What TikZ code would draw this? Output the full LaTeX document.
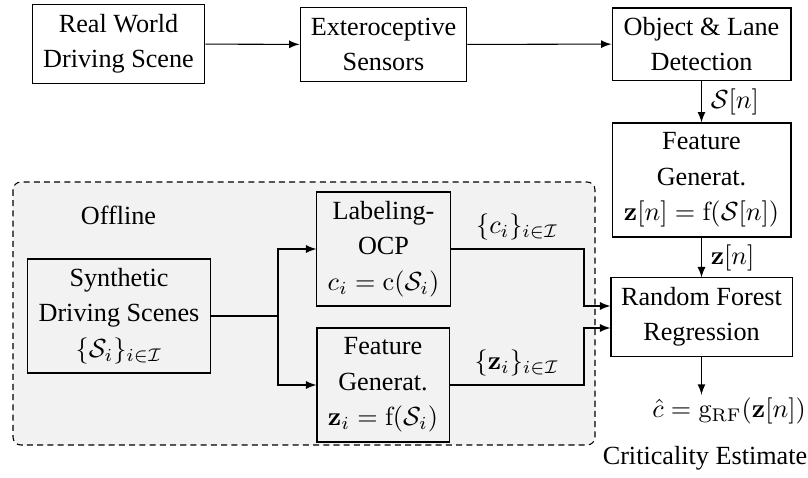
\documentclass[tikz,border=0pt]{standalone}
\usepackage[no-math]{fontspec}
\setmainfont{Liberation Serif}
\begin{document}
\begin{tikzpicture}[x=0.3817pt, y=-0.3817pt, >=latex,
    block/.style = {draw, align=center, inner xsep=3pt, inner ysep=2.5pt, font=\fontsize{10}{13.5}\selectfont},
    txt/.style = {font=\fontsize{10}{13.5}\selectfont}]
    \useasboundingbox (0,0) rectangle (808,478);
    \draw[dash pattern=on 2.3pt off 1.6pt, fill=gray!10, rounded corners=3pt] (13,182) rectangle (595,445);
    \node[txt] (0) at (118.5,215) {Offline};
    \node[block, minimum width=66pt, minimum height=29.8pt] (1) at (118.5,44) {Real World\\Driving Scene};
    \node[block, minimum width=63.7pt, minimum height=27.9pt] (2) at (383.5,44.5) {Exteroceptive\\Sensors};
    \node[block, minimum width=68.3pt, minimum height=27.5pt] (3) at (701.5,44) {Object \& Lane\\Detection};
    \node[block, minimum width=68.3pt, minimum height=43.5pt] (4) at (701.5,180) {Feature\\Generat.\\$\mathbf{z}[n]=\mathrm{f}(\mathcal{S}[n])$};
    \node[block, minimum width=69.1pt, minimum height=29.8pt] (5) at (701.5,317) {Random Forest\\Regression};
    \node[block, minimum width=69.5pt, minimum height=43.5pt] (6) at (119,316) {Synthetic\\Driving Scenes\\$\{\mathcal{S}_i\}_{i\in\mathcal{I}}$};
    \node[block, minimum width=50.8pt, minimum height=43.5pt] (7) at (383.5,249) {Labeling-\\OCP\\$c_i=\mathrm{c}(\mathcal{S}_i)$};
    \node[block, minimum width=50.4pt, minimum height=43.5pt] (8) at (383,385) {Feature\\Generat.\\$\mathbf{z}_i=\mathrm{f}(\mathcal{S}_i)$};
    \node[txt, inner ysep=1pt] (9) at (729,411) {$\hat{c}=\mathrm{g}_{\mathrm{RF}}(\mathbf{z}[n])$};
    \node[txt] (10) at (705,458) {Criticality Estimate};
    \coordinate (b) at (278,316);
    \coordinate (j1) at (584,306);
    \coordinate (j2) at (584,328);
    \draw[->] (1) -- (2);
    \draw[->] (2) -- (3);
    \draw[->] (3) -- node [midway, right] {$\mathcal{S}[n]$}(4);
    \draw[->] (4) -- node [midway, right] {$\mathbf{z}[n]$}(5);
    \draw[->] (5) -- (5 |- 9.north);
    \draw (6) -- (6 -| b);
    \draw[->] (b) |- (7);
    \draw[->] (b) |- (8);
    \draw[->] (7) -- node [midway, above] {$\{c_i\}_{i\in\mathcal{I}}$}(7 -| j1) |- (5.west |- j1);
    \draw[->] (8) -- node [midway, above] {$\{\mathbf{z}_i\}_{i\in\mathcal{I}}$}(8 -| j2) |- (5.west |- j2);
    \end{tikzpicture}
\end{document}
